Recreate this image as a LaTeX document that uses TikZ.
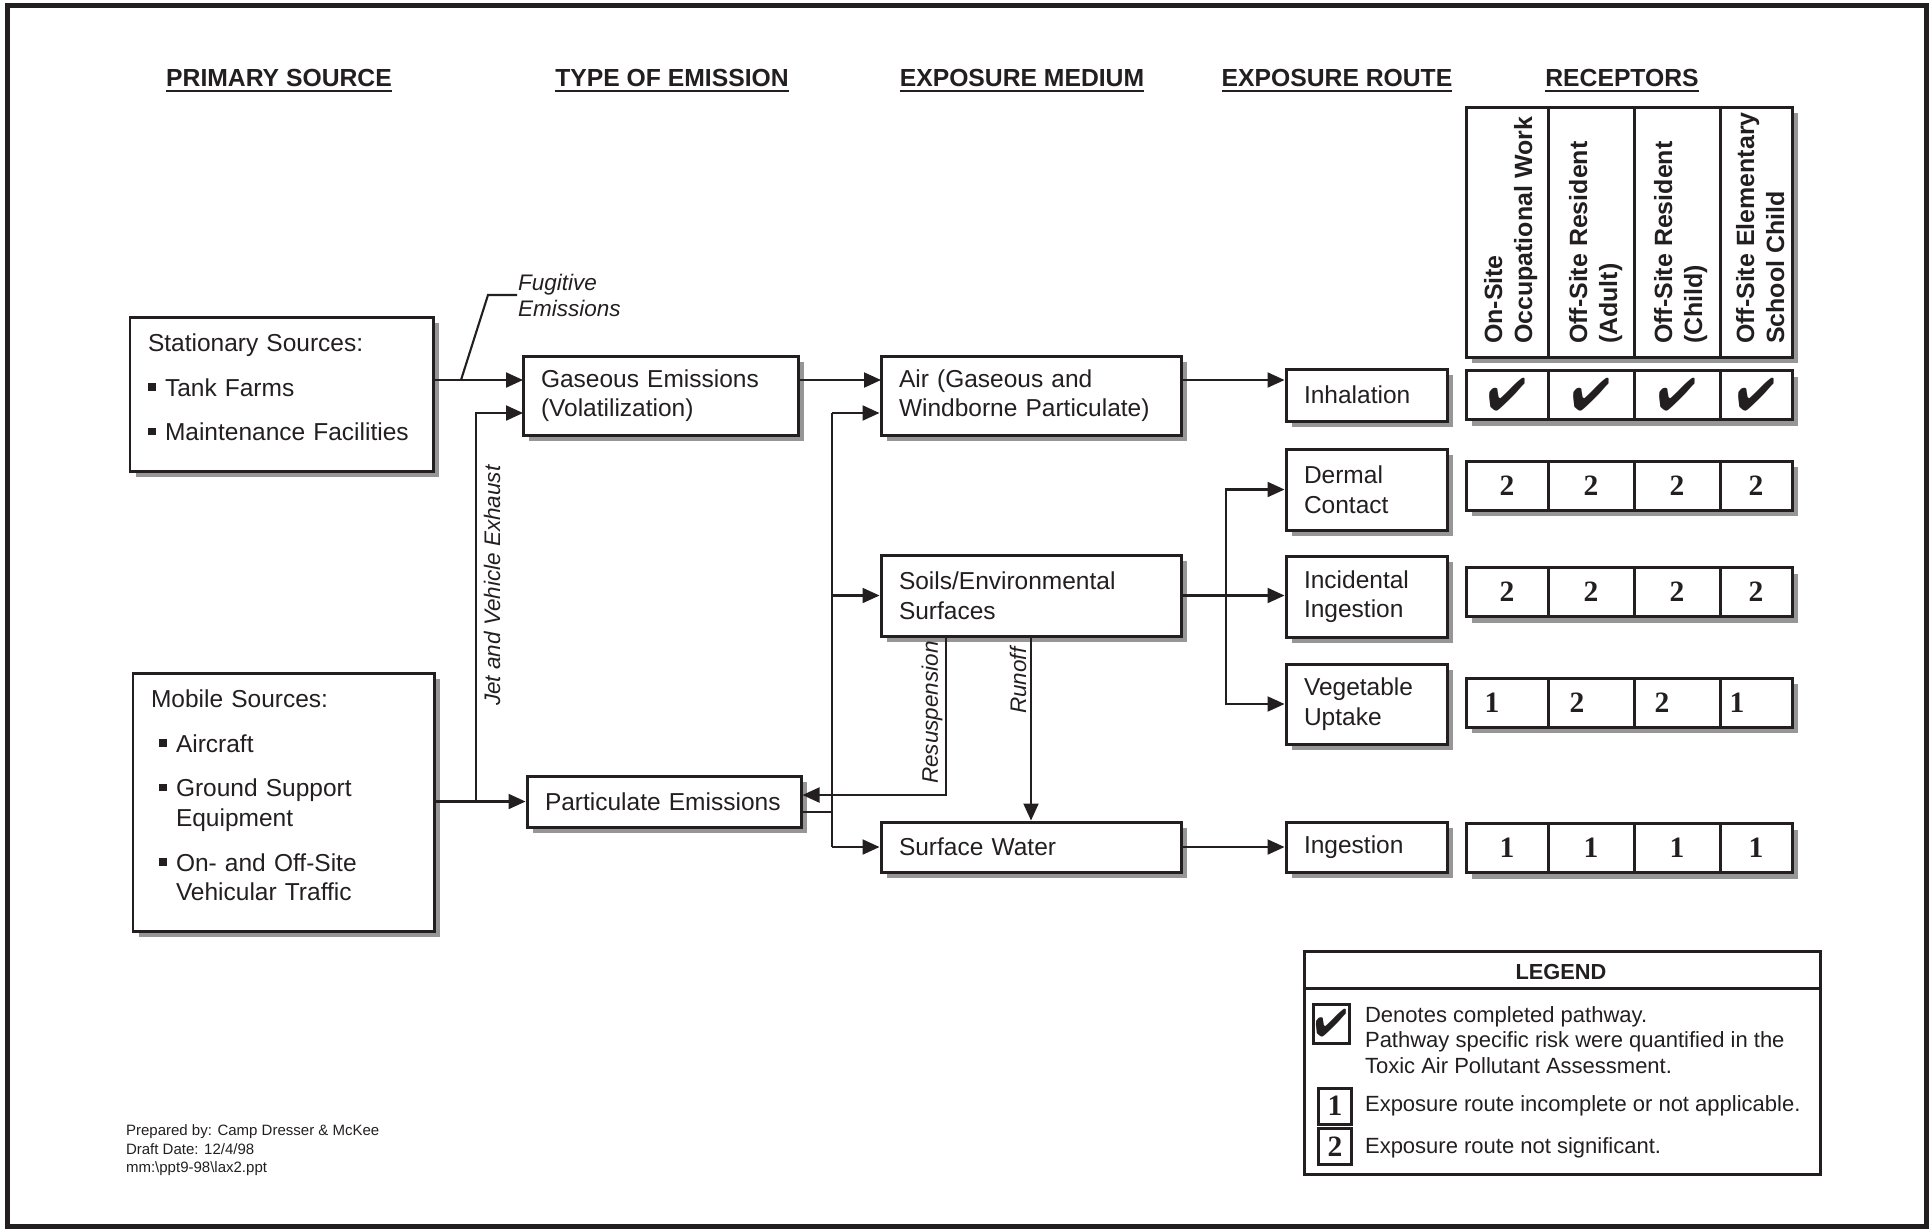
\documentclass[tikz,border=0pt]{standalone}
\usepackage{fontspec}
\setmainfont{Liberation Sans}
\newfontfamily\numfont{Liberation Serif}
\usepackage{pifont}
\usetikzlibrary{arrows.meta,shadows}
\definecolor{ink}{RGB}{35,31,32}
\definecolor{shade}{RGB}{150,150,150}
\newcommand{\blt}{\makebox[0.17cm][l]{\rule[0.055cm]{0.075cm}{0.075cm}}}
\newcommand{\lowpad}{\rule[-0.135cm]{0pt}{0.135cm}}
\newcommand{\chk}{{\fontsize{13}{13}\selectfont\ding{52}}}
\newcommand{\rnum}[1]{{\numfont\bfseries\fontsize{8.4}{8.4}\selectfont #1}}
\tikzset{
  box/.style={draw=ink, fill=white, line width=0.85pt, inner xsep=0.18cm, inner ysep=0pt, align=left,
    font=\fontsize{6.97}{8.4}\selectfont, drop shadow={shadow xshift=0.06cm, shadow yshift=-0.06cm, fill=shade, opacity=1}},
  cell/.style={draw=ink, fill=white, line width=0.85pt, inner sep=0pt, minimum height=0.49cm,
    drop shadow={shadow xshift=0.06cm, shadow yshift=-0.06cm, fill=shade, opacity=1}},
  head/.style={font=\bfseries\fontsize{7.03}{8.4}\selectfont},
  vhead/.style={font=\bfseries\fontsize{7.1}{8.5}\selectfont, rotate=90, align=left, inner sep=0pt, anchor=north west},
  lbl/.style={font=\itshape\fontsize{6.4}{7.4}\selectfont, inner sep=0pt, align=left},
  legtxt/.style={font=\fontsize{6.26}{7.3}\selectfont, inner sep=0pt, align=left, anchor=west}
}
\begin{document}
\begin{tikzpicture}[color=ink, line width=0.6pt, >={Triangle[length=0.17cm,width=0.15cm]}]
\useasboundingbox (0,0) rectangle (19.29,-12.29);
\draw[line width=0.05cm] (0.075,-0.055) rectangle (19.265,-12.265);

% column headings
\node[head] (hsrc) at (2.79,-0.81) {\underline{PRIMARY SOURCE}};
\node[head] (hemi) at (6.72,-0.81) {\underline{TYPE OF EMISSION}};
\node[head] (hmed) at (10.22,-0.81) {\underline{EXPOSURE MEDIUM}};
\node[head] (hrte) at (13.37,-0.81) {\underline{EXPOSURE ROUTE}};
\node[head] (hrec) at (16.22,-0.81) {\underline{RECEPTORS}};

% sources
\node[box, text width=2.67cm, minimum height=1.54cm] (stat) at (2.815,-3.94) {Stationary Sources:\\[4.3pt]\blt Tank Farms\\[4.3pt]\blt Maintenance Facilities\lowpad};
\node[box, text width=2.65cm, minimum height=2.58cm] (mob) at (2.835,-8.02) {Mobile Sources:\\[4.3pt]
  \hspace*{0.08cm}\blt Aircraft\\[4.3pt]
  \hspace*{0.08cm}\blt Ground Support\\
  \hspace*{0.25cm}Equipment\\[4.3pt]
  \hspace*{0.08cm}\blt On- and Off-Site\\
  \hspace*{0.25cm}Vehicular Traffic\lowpad};

% emissions
\node[box, text width=2.39cm, minimum height=0.79cm] (gas) at (6.605,-3.955) {Gaseous Emissions\\(Volatilization)};
\node[box, text width=2.38cm, minimum height=0.51cm] (part) at (6.64,-8.015) {Particulate Emissions};

% media
\node[box, text width=2.64cm, minimum height=0.79cm] (air) at (10.31,-3.955) {Air (Gaseous and\\Windborne Particulate)};
\node[box, text width=2.64cm, minimum height=0.81cm] (soil) at (10.31,-5.955) {Soils/Environmental\\Surfaces};
\node[box, text width=2.64cm, minimum height=0.50cm] (sw) at (10.31,-8.47) {Surface Water};

% routes
\node[box, text width=1.25cm, minimum height=0.52cm] (inh) at (13.665,-3.95) {Inhalation};
\node[box, text width=1.25cm, minimum height=0.81cm] (derm) at (13.665,-4.895) {Dermal\\Contact};
\node[box, text width=1.25cm, minimum height=0.81cm] (incid) at (13.665,-5.965) {Incidental\\Ingestion};
\node[box, text width=1.25cm, minimum height=0.80cm] (veg) at (13.665,-7.04) {Vegetable\\Uptake};
\node[box, text width=1.25cm, minimum height=0.50cm] (ing) at (13.665,-8.47) {Ingestion};

% receptors
\node[cell, minimum width=0.82cm, minimum height=2.50cm] (hc1) at (15.07,-2.32) {};
\node[cell, minimum width=0.86cm, minimum height=2.50cm] (hc2) at (15.91,-2.32) {};
\node[cell, minimum width=0.86cm, minimum height=2.50cm] (hc3) at (16.77,-2.32) {};
\node[cell, minimum width=0.72cm, minimum height=2.50cm] (hc4) at (17.56,-2.32) {};
\node[vhead] (r1) at (14.83,-3.45) {On-Site\\Occupational Work};
\node[vhead] (r2) at (15.68,-3.45) {Off-Site Resident\\(Adult)};
\node[vhead] (r3) at (16.53,-3.45) {Off-Site Resident\\(Child)};
\node[vhead] (r4) at (17.35,-3.45) {Off-Site Elementary\\School Child};

\node[cell, minimum width=0.82cm] (c11) at (15.07,-3.95) {\chk};
\node[cell, minimum width=0.86cm] (c12) at (15.91,-3.95) {\chk};
\node[cell, minimum width=0.86cm] (c13) at (16.77,-3.95) {\chk};
\node[cell, minimum width=0.72cm] (c14) at (17.56,-3.95) {\chk};

\node[cell, minimum width=0.82cm] (c21) at (15.07,-4.855) {\rnum{2}};
\node[cell, minimum width=0.86cm] (c22) at (15.91,-4.855) {\rnum{2}};
\node[cell, minimum width=0.86cm] (c23) at (16.77,-4.855) {\rnum{2}};
\node[cell, minimum width=0.72cm] (c24) at (17.56,-4.855) {\rnum{2}};

\node[cell, minimum width=0.82cm] (c31) at (15.07,-5.92) {\rnum{2}};
\node[cell, minimum width=0.86cm] (c32) at (15.91,-5.92) {\rnum{2}};
\node[cell, minimum width=0.86cm] (c33) at (16.77,-5.92) {\rnum{2}};
\node[cell, minimum width=0.72cm] (c34) at (17.56,-5.92) {\rnum{2}};

\node[cell, minimum width=0.82cm] (c41) at (15.07,-7.025) {\rnum{1}\kern0.3cm};
\node[cell, minimum width=0.86cm] (c42) at (15.91,-7.025) {\rnum{2}\kern0.28cm};
\node[cell, minimum width=0.86cm] (c43) at (16.77,-7.025) {\rnum{2}\kern0.3cm};
\node[cell, minimum width=0.72cm] (c44) at (17.56,-7.025) {\rnum{1}\kern0.38cm};

\node[cell, minimum width=0.82cm] (c51) at (15.07,-8.48) {\rnum{1}};
\node[cell, minimum width=0.86cm] (c52) at (15.91,-8.48) {\rnum{1}};
\node[cell, minimum width=0.86cm] (c53) at (16.77,-8.48) {\rnum{1}};
\node[cell, minimum width=0.72cm] (c54) at (17.56,-8.48) {\rnum{1}};

% path labels
\node[lbl, anchor=west] (fuglbl) at (5.17,-2.95) {Fugitive\\Emissions};
\node[lbl, rotate=90, anchor=west] (jetlbl) at (4.92,-7.07) {Jet and Vehicle Exhaust};
\node[lbl, rotate=90, anchor=west] (reslbl) at (9.32,-7.85) {Resuspension};
\node[lbl, rotate=90, anchor=west] (runlbl) at (10.18,-7.15) {Runoff};

\coordinate (g1) at (5.23,-3.80); \coordinate (g2) at (5.23,-4.13);
\coordinate (fug) at (4.61,-3.80); \coordinate (fugbend) at (4.88,-2.95);
\coordinate (jet) at (4.76,-8.015); \coordinate (a1) at (8.81,-3.80);
\coordinate (bustop) at (8.32,-4.13); \coordinate (busbot) at (8.32,-8.47); \coordinate (pout) at (8.32,-8.12);
\coordinate (res) at (9.46,-7.95); \coordinate (br) at (12.26,-5.96);

\draw[->] (stat.east |- g1) -- (g1); \draw (fug) -- (fugbend) -- (fuglbl.west);
\draw[->] (mob.east |- part.west) -- (part.west); \draw[->] (jet) |- (g2);
\draw[->] (gas.east |- a1) -- (a1);
\draw (pout -| part.east) -- (pout); \draw (bustop) -- (busbot);
\draw[->] (bustop) -- (bustop -| air.west); \draw[->] (bustop |- soil.west) -- (soil.west); \draw[->] (busbot) -- (sw.west);
\draw[->] (soil.south -| res) -- (res) -- (res -| part.east); \draw[->] (soil.south) -- (sw.north);
\draw[->] (air.east |- a1) -- (a1 -| inh.west); \draw[->] (soil.east) -- (soil.east -| incid.west);
\draw[<->] (veg.west) -| (br) |- (derm.west); \draw[->] (sw.east) -- (ing.west);

% legend
\node[draw, line width=0.85pt, minimum width=5.16cm, minimum height=2.23cm] (leg) at (15.62,-10.625) {};
\coordinate (legsep) at (0,-9.88);
\draw[line width=0.85pt] (leg.west |- legsep) -- (leg.east |- legsep);
\node[font=\bfseries\fontsize{6.2}{7}\selectfont] (legtitle) at (15.61,-9.72) {LEGEND};
\node[draw, line width=0.85pt, minimum width=0.36cm, minimum height=0.39cm, inner sep=0pt] (lchk) at (13.31,-10.235) {{\fontsize{11}{11}\selectfont\ding{52}}};
\node[legtxt] (lchktxt) at (13.64,-10.40) {Denotes completed pathway.\\Pathway specific risk were quantified in the\\Toxic Air Pollutant Assessment.};
\node[draw, line width=0.85pt, minimum width=0.33cm, minimum height=0.36cm, inner sep=0pt] (lone) at (13.35,-11.06) {\rnum{1}};
\node[legtxt] (lonetxt) at (13.64,-11.06) {Exposure route incomplete or not applicable.};
\node[draw, line width=0.85pt, minimum width=0.33cm, minimum height=0.36cm, inner sep=0pt] (ltwo) at (13.35,-11.465) {\rnum{2}};
\node[legtxt] (ltwotxt) at (13.64,-11.48) {Exposure route not significant.};

% footer
\node[anchor=north west, align=left, inner sep=0pt, font=\fontsize{4.27}{5.26}\selectfont] (prep) at (1.25,-11.24) {Prepared by: Camp Dresser \& McKee\\Draft Date: 12/4/98\\mm:\textbackslash ppt9-98\textbackslash lax2.ppt};
\end{tikzpicture}
\end{document}
